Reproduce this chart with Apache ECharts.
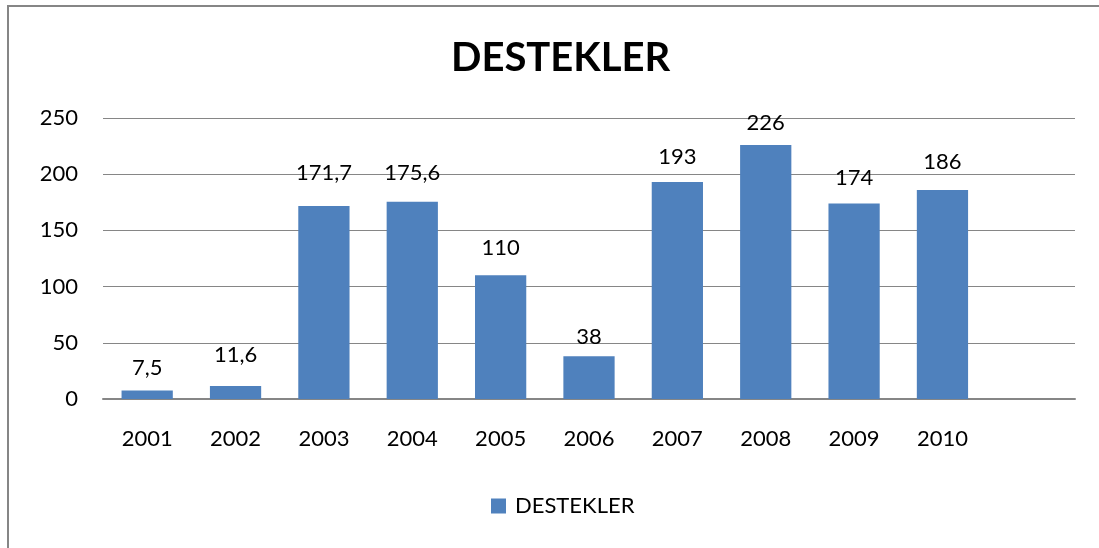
<!DOCTYPE html>
<html>
<head>
<meta charset="utf-8">
<script src="https://cdn.jsdelivr.net/npm/echarts@6/dist/echarts.min.js"></script>
<style>
  html, body { margin: 0; padding: 0; background: #fff; }
  #frame { position: absolute; left: 7px; top: 5px; width: 1100px; height: 560px; border: 2px solid #868686; box-sizing: border-box; }
  #chart { position: absolute; left: 0; top: 0; width: 1099px; height: 548px; }
</style>
</head>
<body>
<div id="frame"></div>
<div id="chart"></div>
<script>
// chart data
const years = ['2001', '2002', '2003', '2004', '2005', '2006', '2007', '2008', '2009', '2010', '']
const destekler = [7.5, 11.6, 171.7, 175.6, 110, 38, 193, 226, 174, 186, null]
const yTicks = [0, 50, 100, 150, 200, 250]

const font = 'Lato, "Open Sans", sans-serif'
// labels were nudged by hand in the original, so keep their gap per bar
const labelGap = [12, 20, 22, 18, 16, 8, 14, 11, 15, 17, 0]

const myChart = echarts.init(document.getElementById('chart'), null, { renderer: 'canvas' })

const option = {
  animation: false,
  title: {
    text: 'DESTEKLER',
    left: 446,
    top: 33,
    textStyle: { fontFamily: font, fontSize: 40, fontWeight: 'bold', color: '#000' }
  },
  legend: {
    bottom: 26,
    left: 486,
    itemWidth: 15,
    itemHeight: 15,
    icon: 'rect',
    itemGap: 8,
    textStyle: { fontFamily: font, fontSize: 22, color: '#000', padding: [0, 0, 0, 4] },
    data: ['DESTEKLER']
  },
  grid: { left: 103, right: 24, top: 118, bottom: 149, containLabel: false },
  xAxis: {
    type: 'category',
    data: years,
    axisLine: { lineStyle: { color: '#868686', width: 2 } },
    axisTick: { show: false },
    axisLabel: { fontFamily: font, fontSize: 22, color: '#000', margin: 29, interval: 0 }
  },
  yAxis: {
    type: 'value',
    min: yTicks[0],
    max: yTicks[yTicks.length - 1],
    interval: 50,
    axisLine: { show: false },
    axisTick: { show: false },
    splitLine: { lineStyle: { color: '#868686', width: 1 } },
    axisLabel: { fontFamily: font, fontSize: 22, color: '#000', margin: 25 }
  },
  series: [{
    name: 'DESTEKLER',
    type: 'bar',
    data: destekler.map((v, i) => ({ value: v, label: { distance: labelGap[i] } })),
    barCategoryGap: '42%',
    itemStyle: { color: '#4f81bd' },
    label: {
      show: true,
      position: 'top',
      fontFamily: font,
      fontSize: 22,
      color: '#000',
      formatter: p => p.value == null ? '' : String(p.value).replace('.', ',')
    }
  }]
}
myChart.setOption(option)
</script>
</body>
</html>
